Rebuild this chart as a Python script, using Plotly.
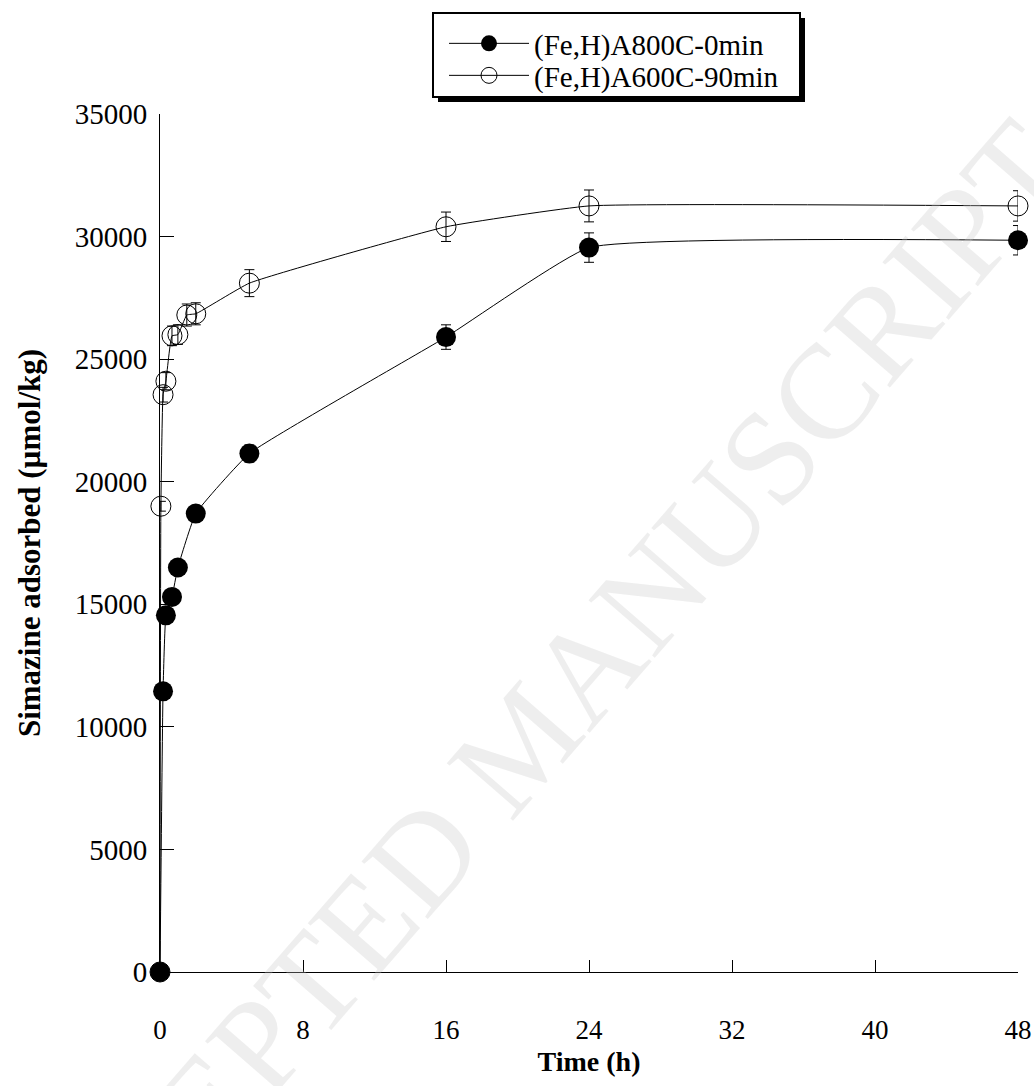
import plotly.graph_objects as go

# Data
t_800 = [0, 0.17, 0.33, 0.67, 1, 2, 5, 16, 24, 48]
y_800 = [0, 11450, 14550, 15300, 16500, 18700, 21150, 25900, 29550, 29850]
e_800 = [0, 200, 250, 250, 250, 300, 350, 500, 600, 600]

t_600 = [0, 0.05, 0.17, 0.33, 0.67, 1, 1.5, 2, 5, 16, 24, 48]
y_600 = [0, 19000, 23550, 24100, 25950, 26000, 26800, 26850, 28100, 30400, 31250, 31250]
e_600 = [0, 200, 300, 350, 400, 400, 450, 450, 550, 600, 650, 620]

name_800 = "(Fe,H)A800C-0min"
name_600 = "(Fe,H)A600C-90min"

x_ticks = [0, 8, 16, 24, 32, 40, 48]
y_ticks = [0, 5000, 10000, 15000, 20000, 25000, 30000, 35000]

FONT = "Liberation Serif, Times New Roman, serif"
W, H = 1034, 1086
L, R, T, B = 160, 16, 114, 114
PW, PH = W - L - R, H - T - B


def px_x(px):
    return (px - L) / PW


def px_y(py):
    return (H - B - py) / PH


fig = go.Figure()
fig.add_trace(go.Scatter(
    x=t_800, y=y_800, name=name_800, mode="lines+markers",
    line=dict(color="black", width=1, shape="spline", smoothing=0.35),
    marker=dict(symbol="circle", size=20, color="black"),
    error_y=dict(type="data", array=e_800, color="black", thickness=1, width=5),
    cliponaxis=False, legend="legend",
))
fig.add_trace(go.Scatter(
    x=t_600, y=y_600, name=name_600, mode="lines+markers",
    line=dict(color="black", width=1, shape="spline", smoothing=0.35),
    marker=dict(symbol="circle-open", size=20, color="black", line=dict(width=1)),
    error_y=dict(type="data", array=e_600, color="black", thickness=1, width=5),
    cliponaxis=False, legend="legend2",
))

# legend box with drop shadow
fig.add_shape(type="rect", xref="paper", yref="paper",
              x0=px_x(438), x1=px_x(805), y0=px_y(102), y1=px_y(18),
              fillcolor="black", line=dict(width=0), layer="below")
fig.add_shape(type="rect", xref="paper", yref="paper",
              x0=px_x(433), x1=px_x(800), y0=px_y(97), y1=px_y(13),
              fillcolor="white", line=dict(color="black", width=2), layer="below")

# watermark
fig.add_annotation(text="ACCEPTED MANUSCRIPT", xref="paper", yref="paper",
                   x=px_x(522), y=px_y(742), xanchor="center", yanchor="middle",
                   showarrow=False, textangle=-49,
                   font=dict(family=FONT, size=134, color="rgba(200,200,200,0.3)"))

leg_common = dict(xanchor="left", yanchor="top", bgcolor="rgba(0,0,0,0)",
                  borderwidth=0, font=dict(family=FONT, size=29, color="black"),
                  itemwidth=80)

fig.update_layout(
    width=W, height=H, autosize=False,
    margin=dict(l=L, r=R, t=T, b=B),
    paper_bgcolor="white", plot_bgcolor="white",
    font=dict(family=FONT, size=29, color="black"),
    showlegend=True,
    legend=dict(x=px_x(444), y=px_y(18), **leg_common),
    legend2=dict(x=px_x(444), y=px_y(50), **leg_common),
    xaxis=dict(range=[0, 48], tickvals=x_ticks, ticktext=[str(v) for v in x_ticks],
               ticks="inside", ticklen=12, tickcolor="black", showline=True,
               linecolor="black", linewidth=1, showgrid=False, zeroline=False,
               ticklabelstandoff=34, automargin=False,
               tickfont=dict(family=FONT, size=27),
               title=dict(text="<b>Time (h)</b>", standoff=6,
                          font=dict(family=FONT, size=28))),
    yaxis=dict(range=[0, 35000], tickvals=y_ticks, ticktext=[str(v) for v in y_ticks],
               ticks="inside", ticklen=14, tickcolor="black", showline=True,
               linecolor="black", linewidth=1, showgrid=False, zeroline=False,
               ticklabelstandoff=6, automargin=False,
               title=dict(text="<b>Simazine adsorbed (µmol/kg)</b>", standoff=24,
                          font=dict(family=FONT, size=31))),
)

fig.write_html("out.html", config={"displayModeBar": False},
               post_script="document.body.style.margin='0';")
